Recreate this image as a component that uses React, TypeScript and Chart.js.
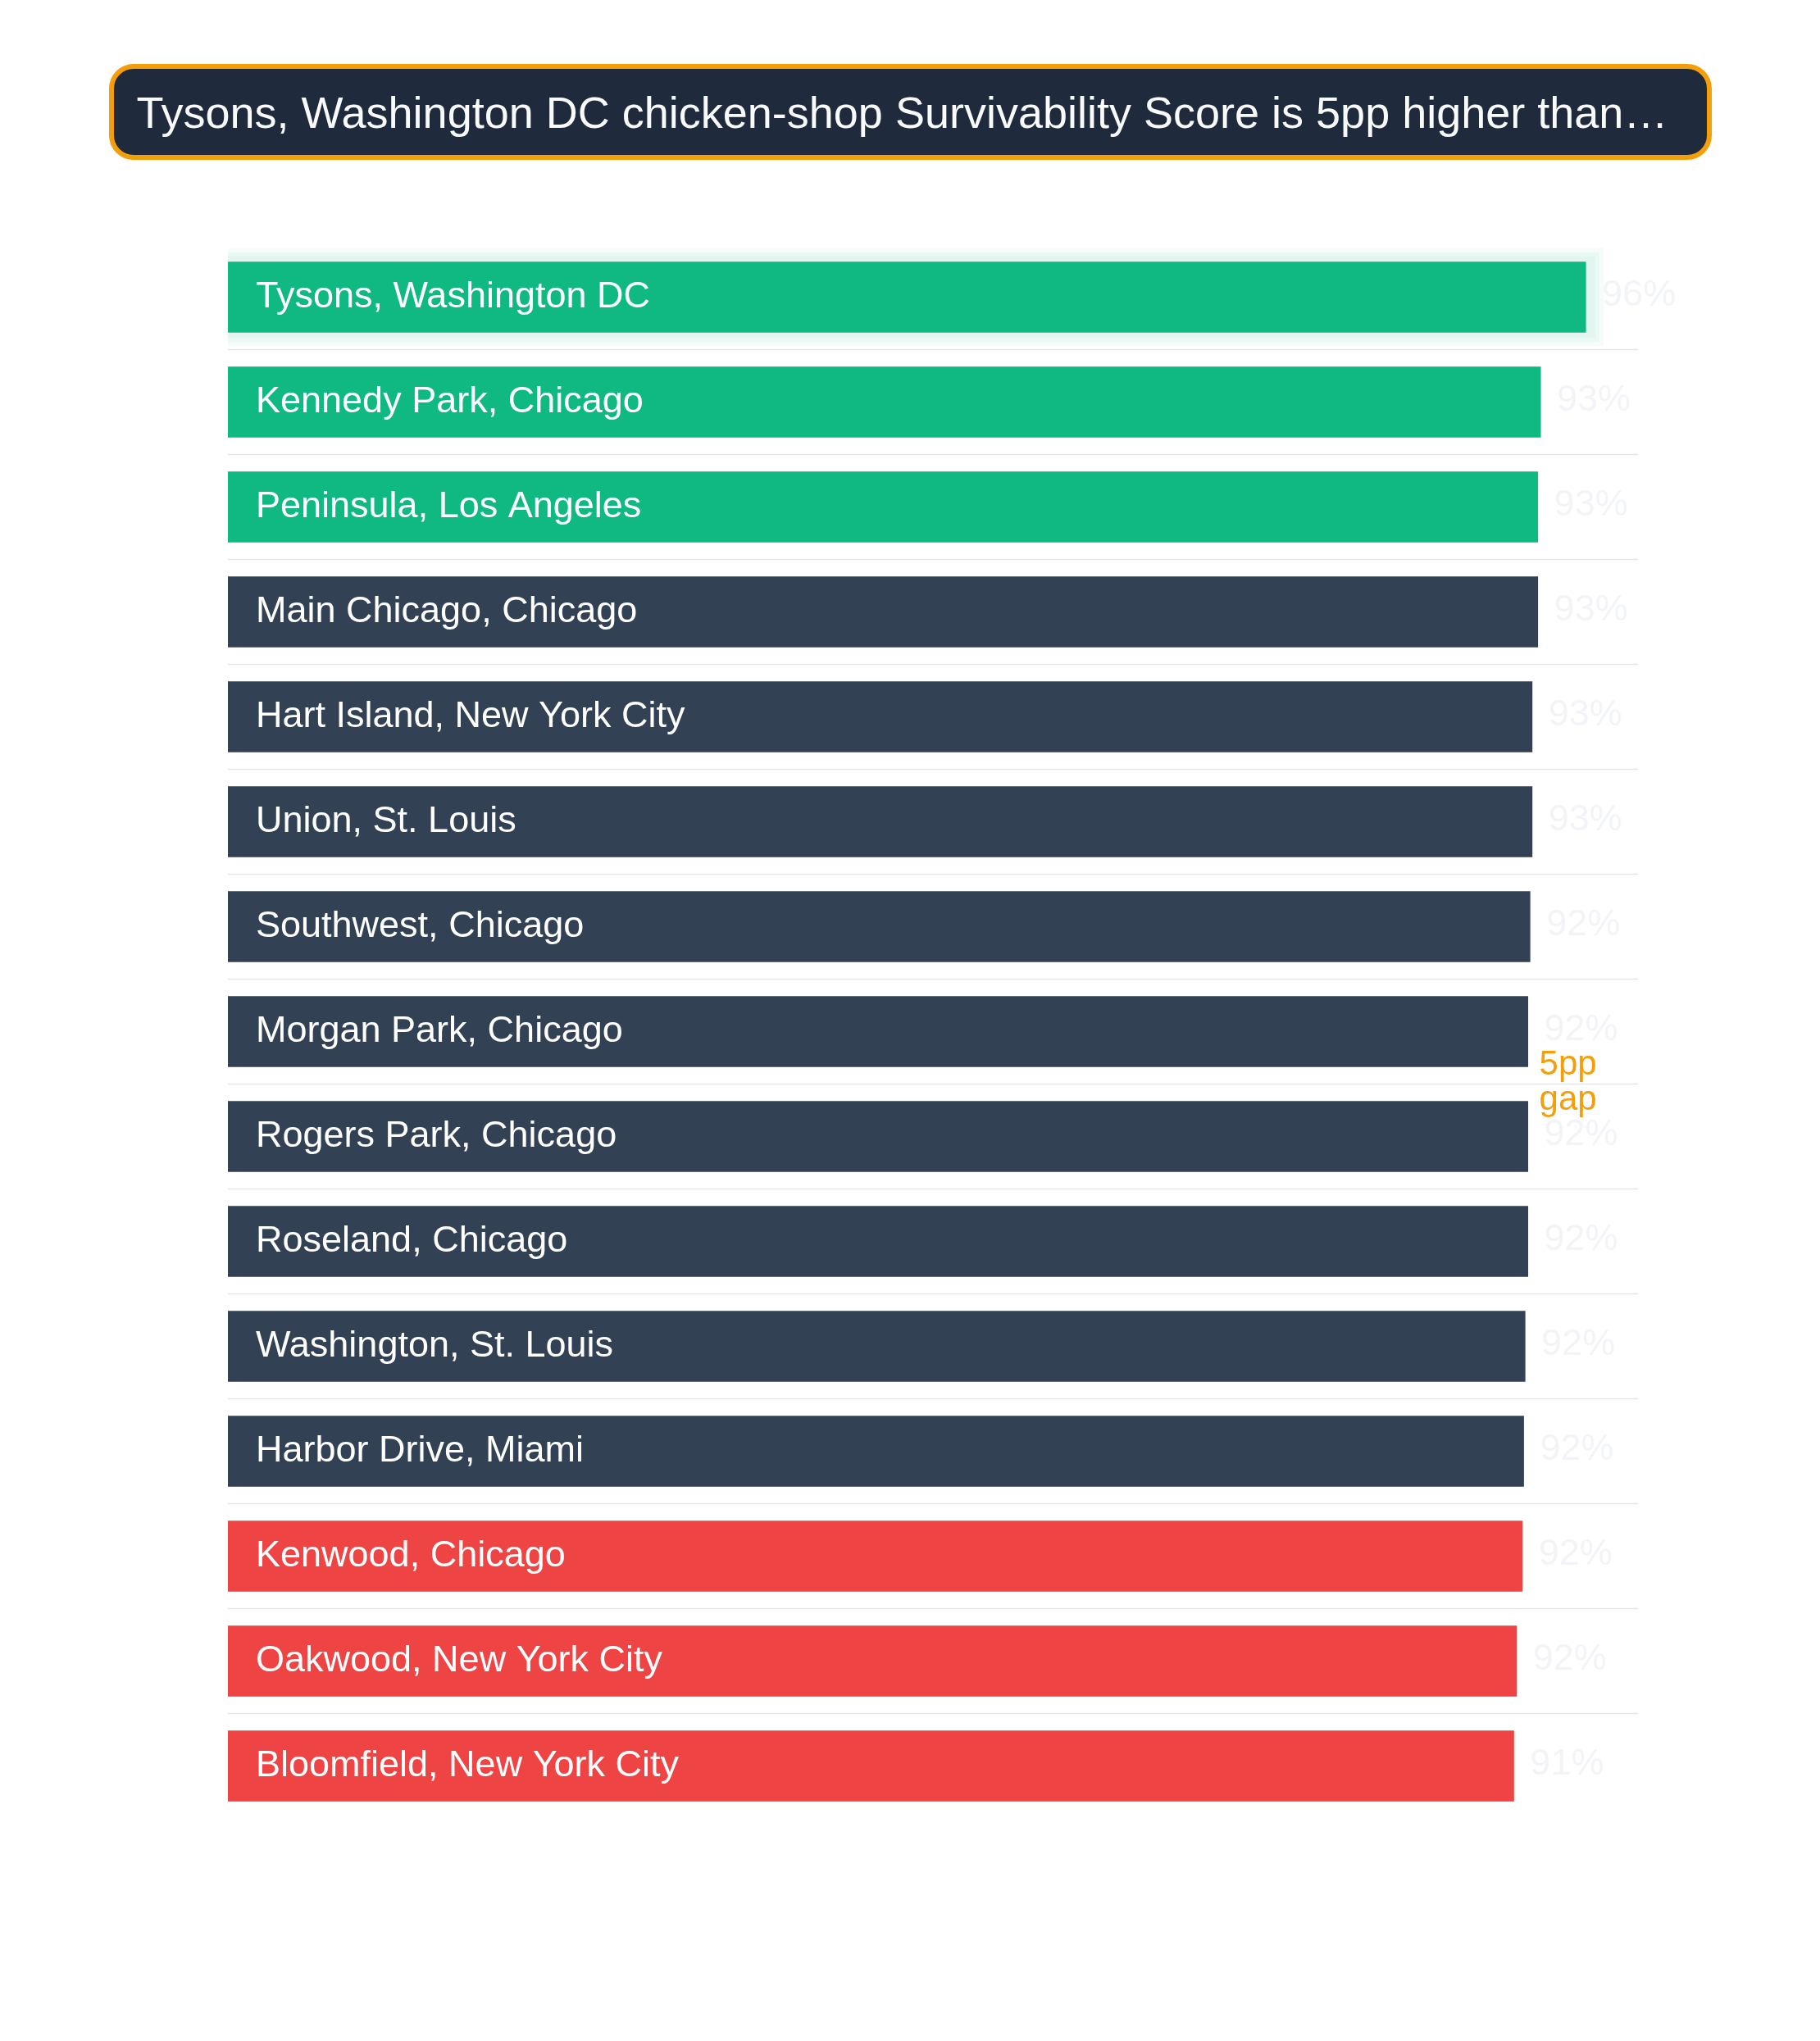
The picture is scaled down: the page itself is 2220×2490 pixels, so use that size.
import { useEffect, useRef } from 'react'
import { Chart, registerables } from 'chart.js'

Chart.register(...registerables)

// Data
const TITLE = 'Tysons, Washington DC chicken-shop Survivability Score is 5pp higher than…'
const neighbourhoods = [
  'Tysons, Washington DC',
  'Kennedy Park, Chicago',
  'Peninsula, Los Angeles',
  'Main Chicago, Chicago',
  'Hart Island, New York City',
  'Union, St. Louis',
  'Southwest, Chicago',
  'Morgan Park, Chicago',
  'Rogers Park, Chicago',
  'Roseland, Chicago',
  'Washington, St. Louis',
  'Harbor Drive, Miami',
  'Kenwood, Chicago',
  'Oakwood, New York City',
  'Bloomfield, New York City',
]
const scores = [96.4, 93.2, 93.0, 93.0, 92.6, 92.6, 92.45, 92.3, 92.3, 92.3, 92.1, 92.0, 91.9, 91.5, 91.3]
const tiers = ['top', 'top', 'top', 'mid', 'mid', 'mid', 'mid', 'mid', 'mid', 'mid', 'mid', 'mid', 'low', 'low', 'low']
const GAP_LABEL = ['5pp', 'gap']
const GAP_AT_VALUE = 93

const FONT = "'Liberation Sans', Arial, Helvetica, sans-serif"
const tierColor: Record<string, string> = {
  top: '#10b981',
  mid: '#334155',
  low: '#ef4444',
}

// separators between rows + glow behind the leading bar
const underlayPlugin = {
  id: 'underlay',
  beforeDatasetsDraw(chart: any) {
    const { ctx, chartArea } = chart
    const yScale = chart.scales.y
    ctx.save()
    ctx.strokeStyle = '#e3e5e9'
    ctx.lineWidth = 1.5
    for (let i = 0; i < neighbourhoods.length - 1; i++) {
      const y = (yScale.getPixelForValue(i) + yScale.getPixelForValue(i + 1)) / 2
      ctx.beginPath()
      ctx.moveTo(chartArea.left, y)
      ctx.lineTo(chartArea.right, y)
      ctx.stroke()
    }

    const bar = chart.getDatasetMeta(0).data[0]
    if (bar) {
      const { x, y, base, height } = bar.getProps(['x', 'y', 'base', 'height'], true)
      ctx.beginPath()
      ctx.rect(chartArea.left, chartArea.top - 40, chartArea.width, chartArea.height + 80)
      ctx.clip()
      ctx.fillStyle = 'rgba(16, 185, 129, 0.045)'
      for (const pad of [15, 10, 5]) {
        ctx.fillRect(base - pad, y - height / 2 - pad, x - base + pad * 2 + 5, height + pad * 2)
      }
    }
    ctx.restore()
  },
}

// category names inside the bars, faint values, and the gap note
const labelPlugin = {
  id: 'labels',
  afterDatasetsDraw(chart: any) {
    const { ctx, chartArea } = chart
    const meta = chart.getDatasetMeta(0)
    ctx.save()
    ctx.font = `45px ${FONT}`
    ctx.textBaseline = 'middle'
    meta.data.forEach((bar: any, i: number) => {
      ctx.fillStyle = '#ffffff'
      ctx.textAlign = 'left'
      ctx.fillText(neighbourhoods[i], chartArea.left + 34, bar.y)
      ctx.fillStyle = '#f2f4f7'
      ctx.fillText(Math.round(scores[i]) + '%', bar.x + 18, bar.y - 2)
    })

    const yScale = chart.scales.y
    const xScale = chart.scales.x
    const mid = (yScale.getPixelForValue(7) + yScale.getPixelForValue(8)) / 2
    const gx = xScale.getPixelForValue(GAP_AT_VALUE)
    ctx.font = `42px ${FONT}`
    ctx.fillStyle = '#f59e0b'
    ctx.textBaseline = 'alphabetic'
    ctx.fillText(GAP_LABEL[0], gx, mid - 12)
    ctx.fillText(GAP_LABEL[1], gx, mid + 31)
    ctx.restore()
  },
}

export default function App() {
  const chartRef = useRef<HTMLCanvasElement>(null)
  const chartInstance = useRef<Chart | null>(null)

  useEffect(() => {
    if (!chartRef.current) return
    if (chartInstance.current) chartInstance.current.destroy()

    const colors = tiers.map((t) => tierColor[t])

    chartInstance.current = new Chart(chartRef.current, {
      type: 'bar',
      data: {
        labels: neighbourhoods,
        datasets: [
          {
            label: 'Survivability Score',
            data: scores,
            backgroundColor: colors,
            borderColor: 'rgba(255, 255, 255, 0.35)',
            borderWidth: 1.5,
            barPercentage: 0.7,
            categoryPercentage: 1,
          },
        ],
      },
      options: {
        indexAxis: 'y' as const,
        animation: false,
        responsive: true,
        maintainAspectRatio: false,
        layout: {
          padding: { left: 270, right: 214, top: 68.5, bottom: 61.5 },
        },
        plugins: {
          legend: { display: false },
          title: { display: false },
          tooltip: { enabled: false },
        },
        scales: {
          x: { display: false, min: 0, max: 100 },
          y: { display: false },
        },
      },
      plugins: [underlayPlugin, labelPlugin],
    })

    return () => {
      if (chartInstance.current) {
        chartInstance.current.destroy()
        chartInstance.current = null
      }
    }
  }, [])

  return (
    <div style={{ fontFamily: FONT }}>
      <div
        style={{
          boxSizing: 'border-box',
          width: 1955,
          height: 117,
          margin: '70px auto 0',
          background: '#1f2a3c',
          border: '6px solid #f59e0b',
          borderRadius: 30,
          padding: '0 28px',
          display: 'flex',
          alignItems: 'center',
          color: '#f8fafc',
          fontSize: 54,
          whiteSpace: 'nowrap',
          overflow: 'hidden',
        }}
      >
        {TITLE}
      </div>
      <div style={{ position: 'relative', width: '100%', height: 2050, marginTop: 35 }}>
        <canvas ref={chartRef} />
      </div>
    </div>
  )
}
